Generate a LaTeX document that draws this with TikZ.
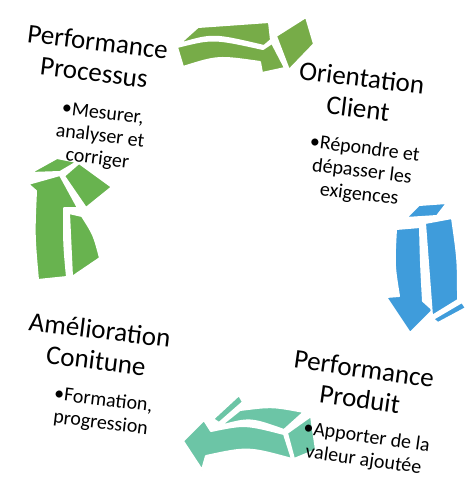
\documentclass[tikz,border=0pt]{standalone}
\usepackage{fontspec}
\setmainfont{Carlito}
\definecolor{topgreen}{HTML}{77AC48}
\definecolor{leftgreen}{HTML}{68B34F}
\definecolor{rightblue}{HTML}{3F9CDB}
\definecolor{bottomteal}{HTML}{6CC5A6}
\begin{document}
\begin{tikzpicture}[x=1pt, y=-1pt,
    title/.style={font=\fontsize{27}{31}\selectfont, align=center, rotate=#1},
    title/.default=-7,
    body/.style={font=\fontsize{20}{23}\selectfont, align=center, rotate=#1},
    body/.default=-7,
    piece/.style={draw=white, line width=2pt, line join=round, fill=#1}]
        \useasboundingbox (0,0) rectangle (465,477);
        \draw[piece=topgreen] (177,47) .. controls (213,38) .. (263,49) -- (272,43) -- (285,68)
                              -- (262,73) -- (260,62) .. controls (218,56) .. (183,67) -- cycle;
        \draw[piece=topgreen] (179,44) .. controls (213,34) .. (264,46) -- (271,40) -- (269,22) -- (198,27) -- cycle;
        \draw[piece=topgreen] (276,36) -- (306,17) -- (314,44) -- (289,70) -- cycle;
        \draw[piece=rightblue] (396,229) .. controls (394,265) .. (399,296) -- (386,297) -- (410,333)
                               -- (433,310) -- (423,301) .. controls (421,265) .. (420,227) -- cycle;
        \draw[piece=rightblue] (425,223) -- (452,218) .. controls (458,260) .. (458,300) -- (432,316)
                               .. controls (428,270) .. (425,223) -- cycle;
        \draw[piece=rightblue] (406,218) -- (419,205) -- (447,203) -- (437,216) -- cycle;
        \draw[piece=rightblue] (433,319) -- (462,302) -- (466,308) -- (438,323) -- cycle;
        \draw[piece=bottomteal] (284,434) .. controls (245,424) .. (211,431) -- (204,420) -- (183,441)
                                -- (202,470) -- (206,456) .. controls (248,447) .. (292,459) -- cycle;
        \draw[piece=bottomteal] (220,426) -- (240,410) .. controls (272,406) .. (304,412) -- (284,430)
                                .. controls (250,418) .. (220,426) -- cycle;
        \draw[piece=bottomteal] (213,419) -- (239,395) -- (243,402) -- (219,423) -- cycle;
        \draw[piece=bottomteal] (287,433) -- (311,416) -- (316,450) -- (294,459) -- cycle;
        \draw[piece=leftgreen] (38,280) .. controls (34,235) .. (36,191) -- (28,184) -- (60,175) -- (78,208)
                               -- (64,208) .. controls (64,245) .. (67,277) -- cycle;
        \draw[piece=leftgreen] (69,213) -- (82,216) .. controls (94,235) .. (100,258) -- (72,277)
                               .. controls (70,245) .. (69,213) -- cycle;
        \draw[piece=leftgreen] (64,176) -- (79,163) -- (112,187) -- (86,208) -- cycle;
        \draw[piece=leftgreen] (30,173) -- (57,158) -- (77,162) -- (60,172) -- cycle;
        \node[title] (procT) at (96,57) {Performance\\Processus};
        \node[body] (procB) at (100,137) {•Mesurer,\\analyser et\\corriger};
        \node[title] (clientT) at (360,93) {Orientation\\Client};
        \node[body] (clientB) at (362,172) {•Répondre et\\dépasser les\\exigences};
        \node[title] (amelT) at (98,345) {Amélioration\\Conitune};
        \node[body] (amelB) at (102,412) {•Formation,\\progression};
        \node[title=-8] (prodT) at (362,384) {Performance\\Produit};
        \node[body=-8] (prodB) at (365,449) {•Apporter de la\\valeur ajoutée};
      \end{tikzpicture}
\end{document}
